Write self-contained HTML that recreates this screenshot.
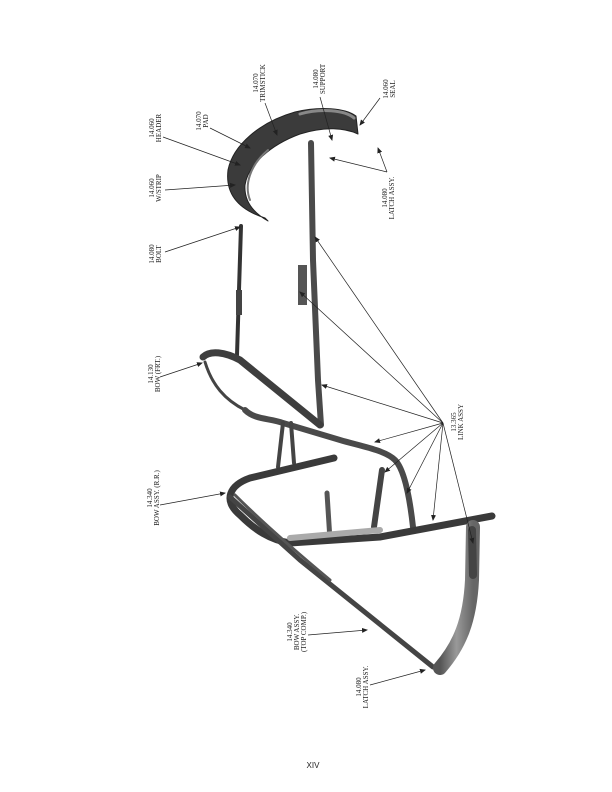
<!DOCTYPE html>
<html><head><meta charset="utf-8"><style>
html,body{margin:0;padding:0;background:#fff;}
svg{display:block;}
text{font-family:"Liberation Serif",serif;font-size:7px;fill:#222;}
</style></head><body>
<svg width="612" height="792" viewBox="0 0 612 792" xmlns="http://www.w3.org/2000/svg">
<defs>
<marker id="a" markerWidth="6" markerHeight="6" refX="5" refY="3" orient="auto" markerUnits="userSpaceOnUse"><path d="M0,0.5 L6,3 L0,5.5 Z" fill="#222"/></marker>
<linearGradient id="g" x1="0" y1="0" x2="1" y2="0"><stop offset="0" stop-color="#555"/><stop offset="0.5" stop-color="#999"/><stop offset="1" stop-color="#666"/></linearGradient>
</defs>
<g fill="none" stroke-linecap="round" stroke-linejoin="round">
<!-- header arc -->
<path d="M265,218 C240,210 225,195 228,170 C233,145 260,122 295,112 C320,106 345,108 356,116 L358,134 C345,128 325,126 300,134 C270,145 248,165 245,185 C244,200 252,212 268,221 Z" fill="#3b3b3b" stroke="#222" stroke-width="1"/>
<path d="M300,114 C320,108 345,110 354,118" stroke="#888" stroke-width="3"/>
<path d="M250,200 C244,185 250,165 268,150" stroke="#777" stroke-width="2"/>
<!-- left rail -->
<path d="M241,226 L239,290 L237,355" stroke="#333" stroke-width="4"/>
<rect x="236" y="290" width="6" height="25" fill="#444"/>
<!-- right rail -->
<path d="M311,143 L313,260 L318,380 L321,425" stroke="#4a4a4a" stroke-width="6"/>
<rect x="298" y="265" width="9" height="40" fill="#555"/>
<!-- front bow -->
<path d="M203,357 C210,350 225,352 240,360 L320,425" stroke="#3e3e3e" stroke-width="7"/>
<path d="M205,362 C212,385 225,400 245,410" stroke="#444" stroke-width="3"/>
<path d="M245,410 C255,420 270,418 283,423 L340,440 C360,446 385,450 395,460 C405,470 410,500 413,527" stroke="#4a4a4a" stroke-width="6"/>
<!-- link bars -->
<path d="M283,423 L278,467" stroke="#444" stroke-width="4"/>
<path d="M291,423 L294,463" stroke="#444" stroke-width="4"/>
<path d="M382,470 L374,527" stroke="#444" stroke-width="6"/>
<path d="M327,493 L330,540" stroke="#555" stroke-width="5"/>
<!-- rear bow -->
<path d="M334,458 L250,478 C230,485 222,500 240,515 C255,530 270,540 290,543 L380,537 L492,516" stroke="#3a3a3a" stroke-width="7"/>
<path d="M290,538 L380,530" stroke="#aaa" stroke-width="6"/>
<!-- top comp diagonal -->
<path d="M230,497 L300,560 L433,667" stroke="#444" stroke-width="5"/>
<path d="M235,495 C260,520 300,555 330,580" stroke="#555" stroke-width="3"/>
<!-- latch curved bar -->
<path d="M473,527 L472,580 C470,620 460,645 440,668" stroke="url(#g)" stroke-width="14"/>
<path d="M472,530 L473,575" stroke="#444" stroke-width="8"/>
</g>
<!-- leaders -->
<g stroke="#222" stroke-width="0.7" marker-end="url(#a)">
<line x1="265" y1="103" x2="277" y2="135"/>
<line x1="320" y1="97" x2="332" y2="140"/>
<line x1="380" y1="98" x2="360" y2="125"/>
<line x1="210" y1="128" x2="250" y2="148"/>
<line x1="163" y1="137" x2="240" y2="165"/>
<line x1="165" y1="190" x2="235" y2="185"/>
<line x1="165" y1="252" x2="240" y2="227"/>
<line x1="387" y1="172" x2="330" y2="158"/>
<line x1="387" y1="172" x2="378" y2="148"/>
<line x1="160" y1="377" x2="202" y2="363"/>
<line x1="443" y1="423" x2="315" y2="237"/>
<line x1="443" y1="423" x2="300" y2="292"/>
<line x1="443" y1="423" x2="322" y2="385"/>
<line x1="443" y1="423" x2="375" y2="442"/>
<line x1="443" y1="423" x2="385" y2="472"/>
<line x1="443" y1="423" x2="407" y2="493"/>
<line x1="443" y1="423" x2="433" y2="520"/>
<line x1="443" y1="423" x2="473" y2="543"/>
<line x1="160" y1="505" x2="225" y2="493"/>
<line x1="308" y1="635" x2="367" y2="630"/>
<line x1="370" y1="685" x2="425" y2="670"/>
</g>
<!-- labels -->
<g text-anchor="middle">
<text transform="translate(258,83) rotate(-90)">14.070</text><text transform="translate(265,83) rotate(-90)">TRIMSTICK</text>
<text transform="translate(318,79) rotate(-90)">14.080</text><text transform="translate(325,79) rotate(-90)">SUPPORT</text>
<text transform="translate(388,89) rotate(-90)">14.060</text><text transform="translate(395,89) rotate(-90)">SEAL</text>
<text transform="translate(201,121) rotate(-90)">14.070</text><text transform="translate(208,121) rotate(-90)">PAD</text>
<text transform="translate(154,128) rotate(-90)">14.060</text><text transform="translate(161,128) rotate(-90)">HEADER</text>
<text transform="translate(154,188) rotate(-90)">14.060</text><text transform="translate(161,188) rotate(-90)">W/STRIP</text>
<text transform="translate(154,254) rotate(-90)">14.080</text><text transform="translate(161,254) rotate(-90)">BOLT</text>
<text transform="translate(387,198) rotate(-90)">14.080</text><text transform="translate(394,198) rotate(-90)">LATCH  ASSY.</text>
<text transform="translate(153,374) rotate(-90)">14.130</text><text transform="translate(160,374) rotate(-90)">BOW (FRT.)</text>
<text transform="translate(456,422) rotate(-90)">13.365</text><text transform="translate(463,422) rotate(-90)">LINK ASSY</text>
<text transform="translate(152,498) rotate(-90)">14.340</text><text transform="translate(159,498) rotate(-90)">BOW ASSY. (R.R.)</text>
<text transform="translate(292,632) rotate(-90)">14.340</text><text transform="translate(299,632) rotate(-90)">BOW ASSY.</text><text transform="translate(306,632) rotate(-90)">(TOP COMP.)</text>
<text transform="translate(361,687) rotate(-90)">14.080</text><text transform="translate(368,687) rotate(-90)">LATCH ASSY.</text>
</g>
<text x="313" y="768" text-anchor="middle" style="font-family:'Liberation Sans',sans-serif;font-size:8px">XIV</text>
</svg>
</body></html>
